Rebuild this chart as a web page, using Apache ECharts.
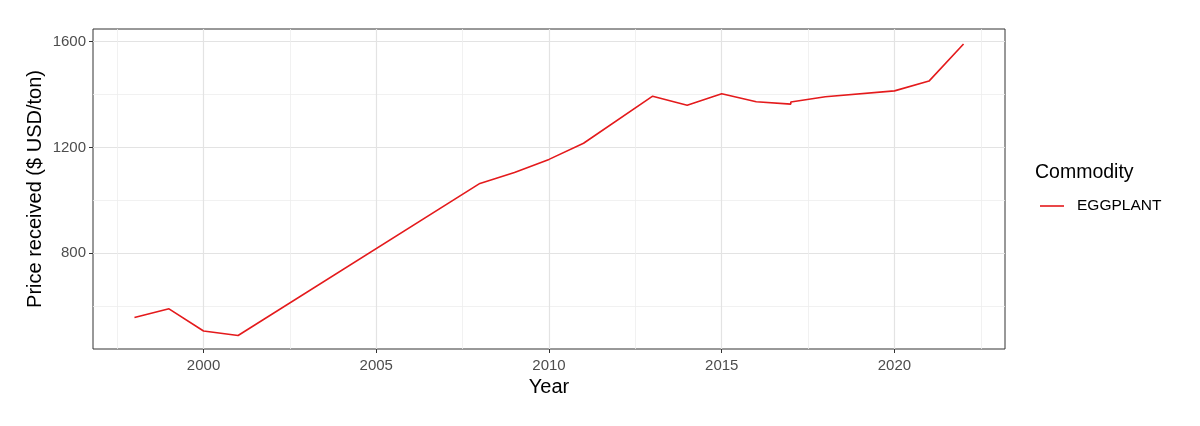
<!DOCTYPE html>
<html>
<head>
<meta charset="utf-8">
<script src="https://cdn.jsdelivr.net/npm/echarts@6/dist/echarts.min.js"></script>
<style>
  html, body { margin: 0; padding: 0; background: #ffffff; }
  #chart { width: 1200px; height: 426px; }
</style>
</head>
<body>
<div id="chart"></div>
<script>
// ---- data ----
const years  = [1998, 1999, 2000, 2001, 2008, 2009, 2010, 2011, 2013, 2014, 2015, 2016, 2017, 2017, 2018, 2020, 2021, 2022];
const prices = [557, 590, 506, 489, 1064, 1105, 1155, 1216, 1394, 1360, 1403, 1373, 1364, 1372, 1392, 1414, 1451, 1591];
const seriesName = 'EGGPLANT';
const legendTitle = 'Commodity';
const xMajorTicks = [2000, 2005, 2010, 2015, 2020];
const xMinorTicks = [1997.5, 2002.5, 2007.5, 2012.5, 2017.5, 2022.5];
const yMajorTicks = [800, 1200, 1600];
const yMinorTicks = [600, 1000, 1400];

const FONT = '"Liberation Sans", Arial, sans-serif';
const chart = echarts.init(document.getElementById('chart'), null, { renderer: 'canvas' });

const points = years.map((y, i) => [y, prices[i]]);

const xRange = { min: 1996.8, max: 2023.2 };
const yRange = { min: 438, max: 1648 };

chart.setOption({
  animation: false,
  backgroundColor: '#ffffff',
  title: {
    text: legendTitle,
    left: 1030, top: 158, padding: 5,
    textStyle: { fontFamily: FONT, fontSize: 19.5, fontWeight: 'normal', color: '#000000' }
  },
  legend: {
    data: [seriesName],
    left: 1035, top: 193,
    orient: 'vertical',
    icon: 'rect',
    itemWidth: 24, itemHeight: 1.6,
    itemGap: 10,
    textStyle: { fontFamily: FONT, fontSize: 15.5, color: '#000000', padding: [0, 0, 0, 8] }
  },
  grid: {
    left: 93, right: 195, top: 29, bottom: 77,
    show: true, borderColor: '#333333', borderWidth: 1, backgroundColor: '#ffffff',
    containLabel: false,
    outerBoundsMode: 'none'
  },
  xAxis: [
    {
      type: 'value', ...xRange, position: 'bottom', offset: 0,
      axisLine: { show: false },
      axisTick: { show: false, customValues: xMinorTicks },
      axisLabel: { show: false, customValues: xMinorTicks },
      splitLine: { show: true, lineStyle: { color: '#eeeeee', width: 0.8 } }
    },
    {
      type: 'value', ...xRange, position: 'bottom', offset: 0,
      name: 'Year', nameLocation: 'middle', nameGap: 24,
      nameTextStyle: { fontFamily: FONT, fontSize: 20, color: '#000000', verticalAlign: 'top' },
      axisLine: { show: false },
      axisTick: { show: true, length: 4, customValues: xMajorTicks, lineStyle: { color: '#333333', width: 1 } },
      axisLabel: { show: true, customValues: xMajorTicks, margin: 9, fontFamily: FONT, fontSize: 15, color: '#4d4d4d', formatter: v => String(v) },
      splitLine: { show: true, lineStyle: { color: '#e3e3e3', width: 1.2 } }
    }
  ],
  yAxis: [
    {
      type: 'value', ...yRange, position: 'left', offset: 0,
      axisLine: { show: false },
      axisTick: { show: false, customValues: yMinorTicks },
      axisLabel: { show: false, customValues: yMinorTicks },
      splitLine: { show: true, lineStyle: { color: '#eeeeee', width: 0.8 } }
    },
    {
      type: 'value', ...yRange, position: 'left', offset: 0,
      name: 'Price received ($ USD/ton)', nameLocation: 'middle', nameGap: 48, nameRotate: 90,
      nameMoveOverlap: false,
      nameTextStyle: { fontFamily: FONT, fontSize: 20, color: '#000000' },
      axisLine: { show: false },
      axisTick: { show: true, length: 4, customValues: yMajorTicks, lineStyle: { color: '#333333', width: 1 } },
      axisLabel: { show: true, customValues: yMajorTicks, margin: 7, fontFamily: FONT, fontSize: 15, color: '#4d4d4d', formatter: v => String(v) },
      splitLine: { show: true, lineStyle: { color: '#e3e3e3', width: 1.2 } }
    }
  ],
  series: [
    {
      name: seriesName,
      type: 'line',
      xAxisIndex: 1, yAxisIndex: 1,
      data: points,
      showSymbol: false,
      symbol: 'none',
      lineStyle: { color: '#E41A1C', width: 1.6 },
      itemStyle: { color: '#E41A1C' },
      clip: true
    }
  ]
});
</script>
</body>
</html>
